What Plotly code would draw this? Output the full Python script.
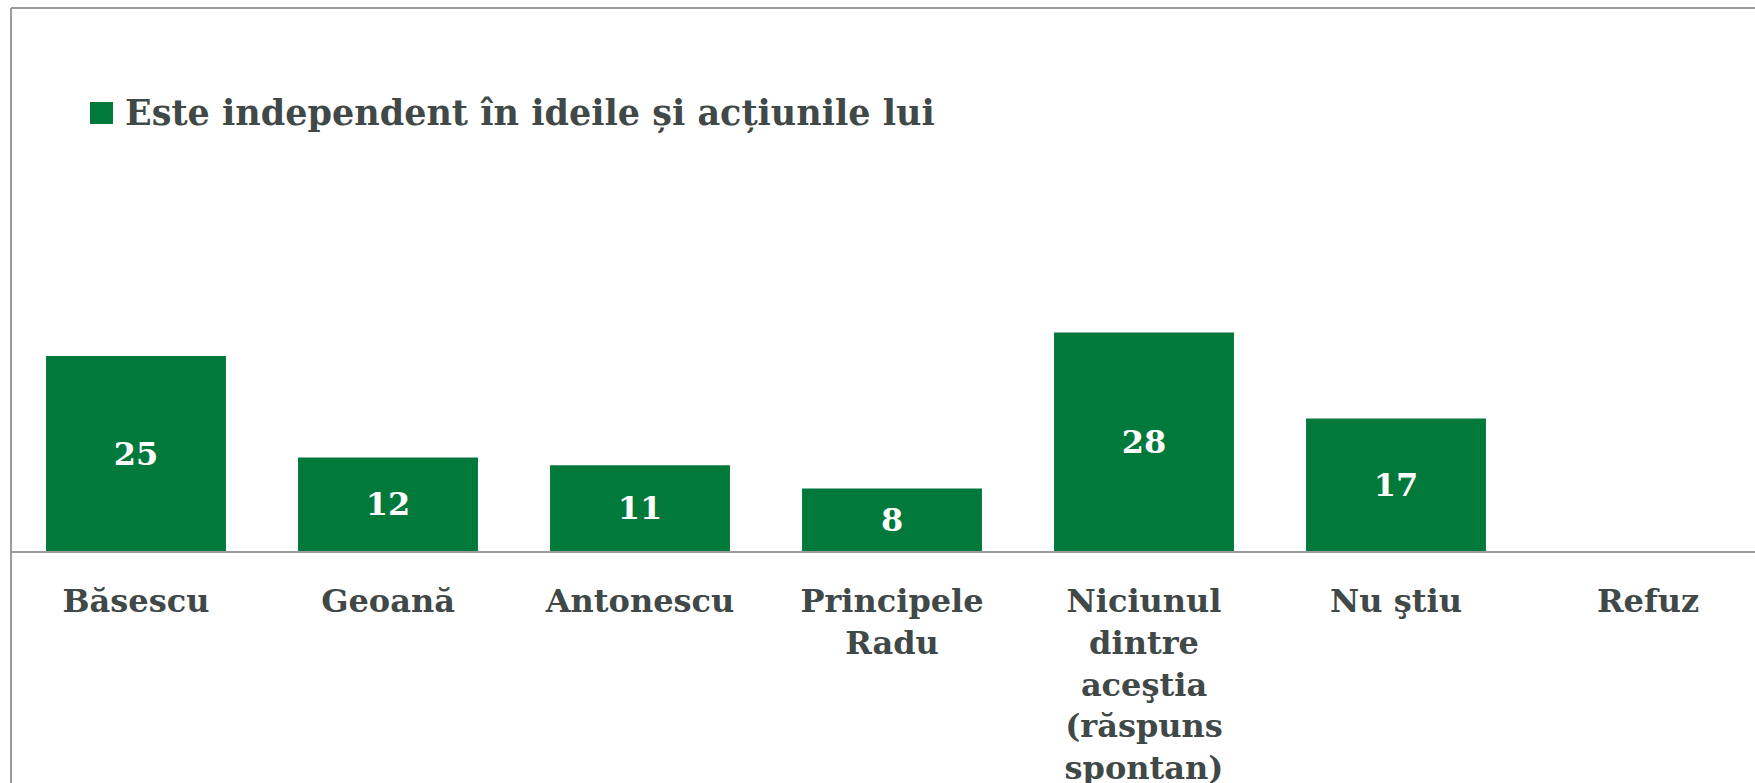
import plotly.graph_objects as go

categories = ["Băsescu", "Geoană", "Antonescu", "Principele<br>Radu",
              "Niciunul<br>dintre<br>aceştia<br>(răspuns<br>spontan)", "Nu ştiu", "Refuz"]
values = [25, 12, 11, 8, 28, 17, 0]
labels = ["25", "12", "11", "8", "28", "17", ""]
series_name = "Este independent în ideile și acțiunile lui"

GREEN = "#00793A"
TEXT = "#404848"
FRAME = "#9C9C9C"
FONT = "DejaVu Serif"

W, H = 1755, 783
L, R, T, B = 10, 0, 40, 232
PW, PH = W - L - R, H - T - B


def px(x):
    return (x - L) / PW


def py(y):
    return (H - B - y) / PH


fig = go.Figure()
fig.add_trace(go.Bar(
    x=list(range(len(categories))),
    y=values,
    text=labels,
    textposition="inside",
    insidetextanchor="middle",
    textangle=0,
    textfont=dict(family=FONT, size=32, color="white", weight="bold"),
    marker=dict(color=GREEN, line=dict(width=0)),
    name=series_name,
    showlegend=False,
    hoverinfo="skip",
))

fig.update_layout(
    width=W, height=H,
    margin=dict(l=L, r=R, t=T, b=B, pad=0),
    paper_bgcolor="white", plot_bgcolor="white",
    bargap=0.286,
    showlegend=False,
    font=dict(family=FONT, color=TEXT),
    xaxis=dict(
        tickmode="array",
        tickvals=list(range(len(categories))),
        ticktext=categories,
        range=[-0.5, (W - L) / 252 - 0.5],
        showline=True, linecolor=FRAME, linewidth=2,
        ticks="outside", ticklen=21, tickcolor="rgba(0,0,0,0)",
        tickfont=dict(family=FONT, size=32, color=TEXT, weight="bold"),
        showgrid=False, zeroline=False, fixedrange=True, automargin=False,
    ),
    yaxis=dict(
        range=[0, PH / 7.8],
        visible=False, showgrid=False, zeroline=False, fixedrange=True,
        automargin=False,
    ),
    shapes=[
        dict(type="line", xref="paper", yref="paper",
             x0=px(11), x1=px(11), y0=py(8), y1=py(H + 5),
             line=dict(color=FRAME, width=2)),
        dict(type="line", xref="paper", yref="paper",
             x0=px(11), x1=px(W + 5), y0=py(8), y1=py(8),
             line=dict(color=FRAME, width=2)),
        dict(type="rect", xref="paper", yref="paper",
             x0=px(90), x1=px(113), y0=py(124), y1=py(102),
             fillcolor=GREEN, line=dict(width=0)),
    ],
    annotations=[
        dict(text=series_name, xref="paper", yref="paper",
             x=px(123), y=py(113), xanchor="left", yanchor="middle",
             showarrow=False,
             font=dict(family=FONT, size=35, color=TEXT, weight="bold")),
    ],
)

fig.write_html("out.html", config={"displayModeBar": False},
               post_script="document.body.style.margin='0';")
